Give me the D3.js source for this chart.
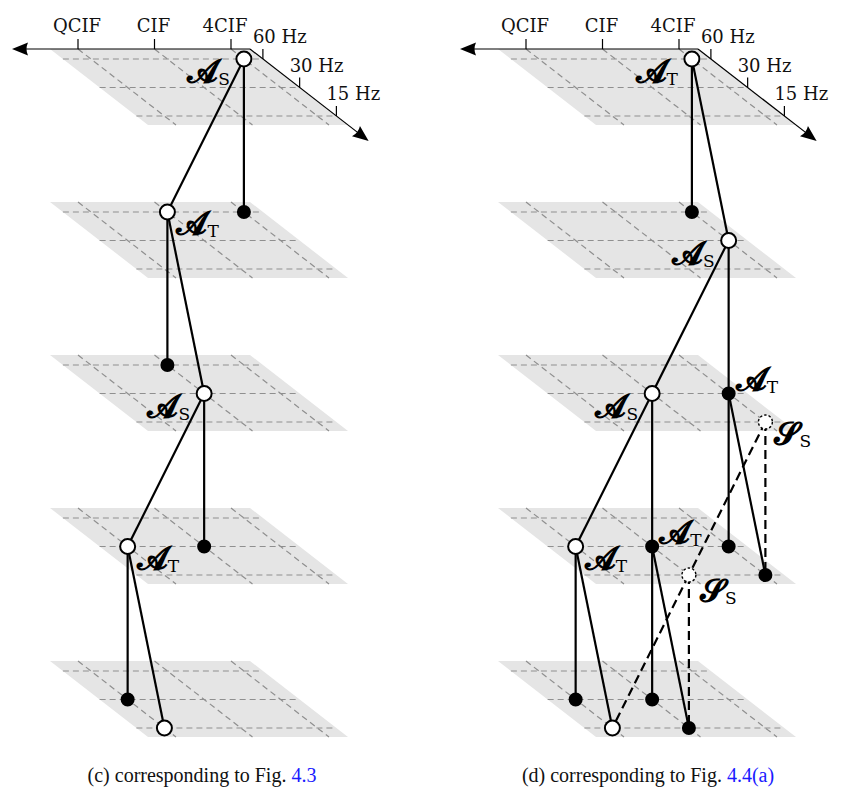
<!DOCTYPE html>
<html>
<head>
<meta charset="utf-8">
<script src="https://cdn.jsdelivr.net/npm/d3@7"></script>
<style>
  body { margin: 0; background: #fff; }
  svg { display: block; }
  .tick-label { font-family: "DejaVu Serif", serif; font-size: 18px; fill: #111; }
  .caption { font-family: "Liberation Serif", serif; font-size: 20px; fill: #111; }
  .math { font-family: "DejaVu Serif", "DejaVu Sans", serif; fill: #000; }
</style>
</head>
<body>
<div class="chart"></div>
<script>
// ---- data ----
var panels = ["c", "d"];
var resolutions = ["QCIF", "CIF", "4CIF"];
var frameRates = ["60 Hz", "30 Hz", "15 Hz"];
var layers = [0, 1, 2, 3, 4];

// nodes: id, layer, resolution, frame rate, kind
var nodesC = [
  ["c0",  0, "4CIF", "60 Hz", "open"],
  ["c1a", 1, "CIF",  "60 Hz", "open"],
  ["c1b", 1, "4CIF", "60 Hz", "filled"],
  ["c2a", 2, "CIF",  "60 Hz", "filled"],
  ["c2b", 2, "CIF",  "30 Hz", "open"],
  ["c3a", 3, "QCIF", "30 Hz", "open"],
  ["c3b", 3, "CIF",  "30 Hz", "filled"],
  ["c4a", 4, "QCIF", "30 Hz", "filled"],
  ["c4b", 4, "QCIF", "15 Hz", "open"]
];
var edgesC = [
  ["c0", "c1a", "solid"], ["c0", "c1b", "solid"],
  ["c1a", "c2a", "solid"], ["c1a", "c2b", "solid"],
  ["c2b", "c3a", "solid"], ["c2b", "c3b", "solid"],
  ["c3a", "c4a", "solid"], ["c3a", "c4b", "solid"]
];
var labelsC = [
  ["c0", "A", "S", "left"], ["c1a", "A", "T", "right"],
  ["c2b", "A", "S", "left"], ["c3a", "A", "T", "right"]
];

var nodesD = [
  ["d0",  0, "4CIF", "60 Hz", "open"],
  ["d1a", 1, "4CIF", "60 Hz", "filled"],
  ["d1b", 1, "4CIF", "30 Hz", "open"],
  ["d2a", 2, "CIF",  "30 Hz", "open"],
  ["d2b", 2, "4CIF", "30 Hz", "filled"],
  ["d2v", 2, "4CIF", "15 Hz", "virtual"],
  ["d3a", 3, "QCIF", "30 Hz", "open"],
  ["d3b", 3, "CIF",  "30 Hz", "filled"],
  ["d3c", 3, "4CIF", "30 Hz", "filled"],
  ["d3d", 3, "4CIF", "15 Hz", "filled"],
  ["d3v", 3, "CIF",  "15 Hz", "virtual"],
  ["d4a", 4, "QCIF", "30 Hz", "filled"],
  ["d4b", 4, "QCIF", "15 Hz", "open"],
  ["d4c", 4, "CIF",  "30 Hz", "filled"],
  ["d4d", 4, "CIF",  "15 Hz", "filled"]
];
var edgesD = [
  ["d0", "d1a", "solid"], ["d0", "d1b", "solid"],
  ["d1b", "d2a", "solid"], ["d1b", "d2b", "solid"],
  ["d2a", "d3a", "solid"], ["d2a", "d3b", "solid"],
  ["d2b", "d3c", "solid"], ["d2b", "d3d", "solid"],
  ["d2v", "d3d", "dashed"], ["d2v", "d3v", "dashed"],
  ["d3a", "d4a", "solid"], ["d3a", "d4b", "solid"],
  ["d3b", "d4c", "solid"], ["d3b", "d4d", "solid"],
  ["d3v", "d4d", "dashed"], ["d3v", "d4b", "dashed"]
];
var labelsD = [
  ["d0", "A", "T", "left"], ["d1b", "A", "S", "left"],
  ["d2a", "A", "S", "left"], ["d2b", "A", "T", "above"],
  ["d2v", "S", "S", "right"], ["d3a", "A", "T", "right"],
  ["d3b", "A", "T", "above"], ["d3v", "S", "S", "belowright"]
];

var captionText = ["(c) corresponding to Fig. ", "(d) corresponding to Fig. "];
var captionRef = ["4.3", "4.4(a)"];

// ---- setup ----
var width = 845, height = 795;
var svg = d3.select(".chart").append("svg")
    .attr("width", width)
    .attr("height", height);

var panelX = d3.scaleOrdinal().domain(panels).range([0, 448]);
var layerY = d3.scaleLinear().domain([0, 4]).range([49, 661]);
var resX = d3.scalePoint().domain(resolutions).range([78, 231]);
var rateDepth = d3.scalePoint().domain(frameRates).range([10, 67]);
var depth = 76, shear = 98 / 76;
var planeLeft = 50, planeRight = 250;

function pos(panel, layer, res, rate) {
  var d = rateDepth(rate);
  return [panelX(panel) + resX(res) + d * shear, layerY(layer) + d];
}

var scriptGlyph = { A: "\uD835\uDCD0", S: "\uD835\uDCE2" }; // bold script A, S

// planes and grids
panels.forEach(function(p) {
  var ox = panelX(p);
  layers.forEach(function(l) {
    var y0 = layerY(l);
    var g = svg.append("g");
    g.append("path")
      .attr("d", "M" + (ox + planeLeft) + "," + y0 + "L" + (ox + planeRight) + "," + y0 +
        "L" + (ox + planeRight + depth * shear) + "," + (y0 + depth) +
        "L" + (ox + planeLeft + depth * shear) + "," + (y0 + depth) + "Z")
      .attr("fill", "#e5e5e5");
    frameRates.forEach(function(r) {
      var d = rateDepth(r);
      g.append("line")
        .attr("x1", ox + planeLeft + d * shear).attr("x2", ox + planeRight + d * shear)
        .attr("y1", y0 + d).attr("y2", y0 + d)
        .attr("stroke", "#8f8f8f").attr("stroke-width", 1.2).attr("stroke-dasharray", "6,4");
    });
    resolutions.forEach(function(r) {
      var x = ox + resX(r);
      g.append("line")
        .attr("x1", x).attr("x2", x + depth * shear)
        .attr("y1", y0).attr("y2", y0 + depth)
        .attr("stroke", "#8f8f8f").attr("stroke-width", 1.2).attr("stroke-dasharray", "6,4");
    });
  });

  // axes on the top plane
  var y0 = layerY(0), cx = ox + planeRight;
  var ax = svg.append("g").attr("stroke", "#000").attr("stroke-width", 1.2);
  ax.append("line").attr("x1", cx).attr("y1", y0).attr("x2", ox + 26).attr("y2", y0);
  var tipD = 92;
  var tx = cx + tipD * shear, ty = y0 + tipD;
  ax.append("line").attr("x1", cx).attr("y1", y0)
    .attr("x2", tx - 12 * Math.cos(Math.atan2(1, shear))).attr("y2", ty - 12 * Math.sin(Math.atan2(1, shear)));
  // arrowheads
  svg.append("path")
    .attr("d", "M" + (ox + 12) + "," + y0 + "L" + (ox + 28) + "," + (y0 - 6.5) +
      "Q" + (ox + 25) + "," + y0 + " " + (ox + 28) + "," + (y0 + 6.5) + "Z")
    .attr("fill", "#000");
  var ang = Math.atan2(1, shear) * 180 / Math.PI;
  svg.append("path")
    .attr("d", "M0,0L-16,-6.5Q-13,0 -16,6.5Z")
    .attr("transform", "translate(" + tx + "," + ty + ") rotate(" + ang + ")")
    .attr("fill", "#000");

  resolutions.forEach(function(r, i) {
    var x = ox + resX(r);
    ax.append("line").attr("x1", x).attr("x2", x).attr("y1", y0).attr("y2", y0 - 10);
    // last label nudged left so it clears "60 Hz"
    svg.append("text").attr("class", "tick-label")
      .attr("x", x - (i == resolutions.length - 1 ? 6 : 1)).attr("y", y0 - 17)
      .attr("text-anchor", "middle").text(r);
  });
  frameRates.forEach(function(r) {
    var d = rateDepth(r);
    var x = cx + d * shear, y = y0 + d;
    ax.append("line").attr("x1", x).attr("x2", x).attr("y1", y).attr("y2", y - 10);
    svg.append("text").attr("class", "tick-label")
      .attr("x", x - 10).attr("y", y - 16).text(r);
  });
});

// nodes, edges, labels
var labelOffset = {
  left: [-14, 23, "end"], right: [9, 22, "start"],
  above: [7, -4, "start"], belowright: [11, 26, "start"]
};

function drawPanel(panel, nodes, edges, labels) {
  var idx = {};
  nodes.forEach(function(n) { idx[n[0]] = pos(panel, n[1], n[2], n[3]); });

  svg.append("g").selectAll("line")
    .data(edges)
    .enter().append("line")
      .attr("x1", function(e) { return idx[e[0]][0]; })
      .attr("y1", function(e) { return idx[e[0]][1]; })
      .attr("x2", function(e) { return idx[e[1]][0]; })
      .attr("y2", function(e) { return idx[e[1]][1]; })
      .attr("stroke", "#000").attr("stroke-width", 2.2)
      .attr("stroke-dasharray", function(e) { return e[2] == "dashed" ? "9,5" : null; });

  svg.append("g").selectAll("circle")
    .data(nodes)
    .enter().append("circle")
      .attr("cx", function(n) { return idx[n[0]][0]; })
      .attr("cy", function(n) { return idx[n[0]][1]; })
      .attr("r", function(n) { return n[4] == "filled" ? 6 : (n[4] == "open" ? 7.5 : 7); })
      .attr("fill", function(n) { return n[4] == "filled" ? "#000" : "#fff"; })
      .attr("stroke", "#000")
      .attr("stroke-width", function(n) { return n[4] == "virtual" ? 1.4 : 2; })
      .attr("stroke-dasharray", function(n) { return n[4] == "virtual" ? "2.5,2" : null; });

  labels.forEach(function(lb) {
    var p = idx[lb[0]], o = labelOffset[lb[3]];
    var t = svg.append("text").attr("class", "math")
      .attr("x", p[0] + o[0]).attr("y", p[1] + o[1])
      .attr("text-anchor", o[2]);
    t.append("tspan").attr("font-size", 32).attr("font-weight", "bold").text(scriptGlyph[lb[1]]);
    t.append("tspan").attr("font-size", 17).attr("dy", 3).text(lb[2]);
  });
}
drawPanel("c", nodesC, edgesC, labelsC);
drawPanel("d", nodesD, edgesD, labelsD);

// captions
panels.forEach(function(p, i) {
  var t = svg.append("text").attr("class", "caption")
    .attr("x", panelX(p) + [202, 200][i]).attr("y", 782).attr("text-anchor", "middle");
  t.append("tspan").text(captionText[i]);
  t.append("tspan").attr("fill", "#1a1aff").text(captionRef[i]);
});
</script>
</body>
</html>
